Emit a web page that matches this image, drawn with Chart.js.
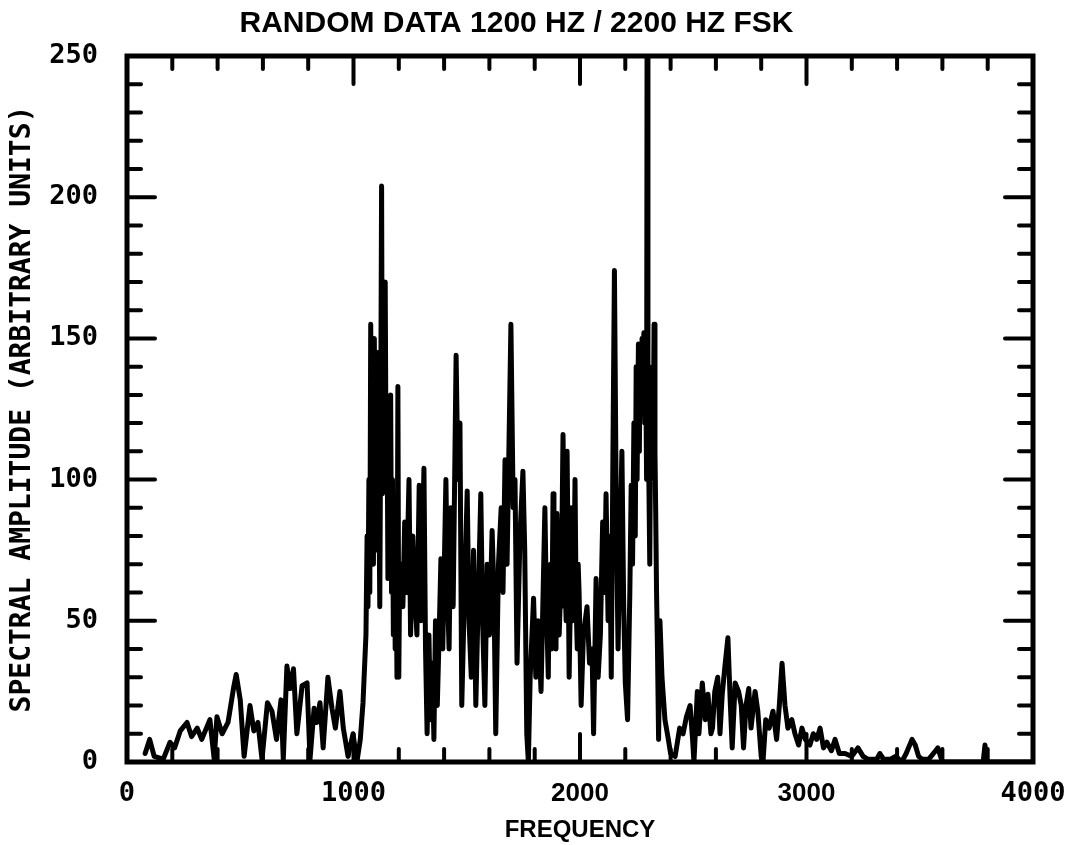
<!DOCTYPE html>
<html>
<head>
<meta charset="utf-8">
<script src="https://cdn.jsdelivr.net/npm/chart.js@4/dist/chart.umd.min.js"></script>
<style>
  body { margin: 0; background: #fff; }
</style>
</head>
<body>
<canvas id="spectrum" width="1069" height="845"></canvas>
<script>
// frequency (Hz) of each vertex of the trace
const freqHz = [
  80, 100, 120, 160, 190, 210, 235, 265, 285, 310,
  330, 366, 385, 397, 420, 446, 470, 482, 500, 517,
  543, 560, 578, 596, 620, 640, 660, 680, 690, 706,
  720, 735, 750, 773, 795, 808, 826, 838, 852, 866,
  887, 905, 920, 940, 955, 976, 998, 1015, 1030, 1042,
  1055, 1060, 1064, 1068, 1072, 1076, 1080, 1084, 1088, 1092,
  1096, 1100, 1104, 1108, 1112, 1116, 1120, 1124, 1128, 1132,
  1136, 1140, 1144, 1148, 1152, 1156, 1160, 1164, 1168, 1172,
  1176, 1180, 1184, 1188, 1192, 1196, 1200, 1203, 1210, 1218,
  1226, 1234, 1245, 1252, 1262, 1270, 1280, 1290, 1298, 1311,
  1318, 1325, 1333, 1340, 1348, 1355, 1362, 1370, 1378, 1386,
  1394, 1408, 1415, 1422, 1430, 1440, 1453, 1461, 1470, 1478,
  1490, 1502, 1510, 1520, 1530, 1540, 1550, 1562, 1570, 1580,
  1590, 1600, 1612, 1620, 1628, 1640, 1652, 1660, 1669, 1678,
  1695, 1705, 1713, 1722, 1735, 1748, 1756, 1765, 1772, 1780,
  1795, 1805, 1815, 1828, 1845, 1852, 1860, 1864, 1870, 1875,
  1881, 1885, 1890, 1894, 1898, 1903, 1908, 1912, 1916, 1920,
  1925, 1930, 1935, 1939, 1943, 1948, 1952, 1956, 1960, 1964,
  1968, 1973, 1978, 1983, 1988, 1992, 1996, 2005, 2015, 2031,
  2042, 2053, 2060, 2071, 2080, 2090, 2100, 2108, 2115, 2124,
  2132, 2138, 2145, 2152, 2160, 2168, 2176, 2185, 2193, 2200,
  2210, 2220, 2226, 2232, 2238, 2244, 2248, 2252, 2258, 2262,
  2266, 2270, 2274, 2278, 2282, 2286, 2290, 2294, 2296, 2300,
  2304, 2308, 2312, 2316, 2320, 2324, 2327, 2331, 2334, 2338,
  2342, 2347, 2353, 2362, 2375, 2390, 2400, 2420, 2440, 2455,
  2470, 2486, 2497, 2503, 2518, 2525, 2540, 2553, 2565, 2578,
  2585, 2595, 2608, 2618, 2628, 2640, 2653, 2663, 2672, 2685,
  2700, 2712, 2722, 2733, 2745, 2755, 2773, 2785, 2800, 2808,
  2820, 2835, 2852, 2868, 2880, 2892, 2905, 2918, 2935, 2949,
  2965, 2980, 2995, 3015, 3030, 3045, 3060, 3075, 3090, 3110,
  3126, 3145, 3170, 3200, 3227, 3250, 3270, 3290, 3310, 3324,
  3340, 3370, 3395, 3420, 3440, 3466, 3480, 3495, 3510, 3540,
  3570, 3580, 3600, 3780, 3788, 3796, 4000
];

// spectral amplitude at each vertex (arbitrary units)
const amplitude = [
  3, 8, 2, 1, 7, 5, 11, 14, 9, 12,
  8, 15, 1, 16, 10, 14, 26, 31, 22, 2,
  20, 11, 14, 1, 21, 18, 8, 22, 1, 34,
  26, 33, 10, 27, 28, 1, 19, 14, 21, 5,
  30, 19, 12, 25, 12, 2, 10, 0, 8, 21,
  45, 80, 55, 100, 60, 155, 90, 140, 70, 150,
  95, 130, 75, 145, 100, 55, 120, 204, 95, 150,
  110, 170, 100, 125, 65, 110, 70, 130, 60, 100,
  45, 85, 40, 70, 30, 133, 30, 60, 70, 55,
  85, 60, 100, 45, 80, 60, 45, 98, 50, 104,
  40, 10, 45, 15, 35, 8, 50, 20, 45, 72,
  40, 100, 60, 40, 90, 55, 144, 100, 120, 20,
  60, 96, 50, 30, 75, 20, 55, 95, 50, 20,
  70, 45, 82, 60, 10, 70, 90, 60, 107, 70,
  155, 90, 100, 35, 80, 103, 75, 10, 0, 30,
  58, 30, 50, 25, 90, 55, 30, 65, 70, 40,
  95, 75, 60, 40, 88, 70, 45, 55, 70, 80,
  116, 85, 60, 50, 110, 70, 30, 50, 90, 75,
  50, 65, 100, 55, 40, 70, 60, 20, 45, 55,
  35, 40, 10, 65, 30, 45, 85, 60, 95, 50,
  80, 30, 105, 174, 90, 40, 75, 110, 55, 28,
  15, 60, 98, 70, 120, 80, 140, 100, 148, 110,
  145, 125, 150, 130, 152, 120, 140, 100, 250, 130,
  100, 70, 125, 100, 140, 120, 155, 110, 90, 60,
  40, 8, 50, 30, 15, 8, 3, 2, 12, 10,
  16, 20, 8, 0, 25, 10, 28, 15, 24, 10,
  12, 25, 30, 10, 24, 34, 44, 22, 5, 28,
  25, 20, 5, 20, 26, 12, 25, 18, 2, 0,
  15, 12, 18, 8, 20, 35, 20, 12, 15, 10,
  6, 12, 8, 6, 10, 8, 12, 5, 7, 4,
  8, 3, 3, 2, 5, 2, 1, 1, 1, 3,
  1, 1, 2, 0, 3, 8, 6, 2, 1, 1,
  4, 5, 0, 0, 6, 0, 0
];

// axis ticks
const xTickLabels = [0, 1000, 2000, 3000, 4000];
const yTickLabels = [0, 50, 100, 150, 200, 250];
const xMinorStep = 200;
const yMinorStep = 10;

const plotterFont = "'DejaVu Sans Mono', monospace";
const sansFont = "'Liberation Sans', Arial, sans-serif";

const points = freqHz.map((f, i) => ({ x: f, y: amplitude[i] }));

// frame and inward tick marks like the pen plotter drew them
const plotterFrame = {
  id: "plotterFrame",
  afterDatasetsDraw(chart) {
    const { ctx, chartArea: a, scales } = chart;
    const x = scales.x, y = scales.y;
    ctx.save();
    ctx.strokeStyle = "#000";
    ctx.lineCap = "round";
    ctx.lineWidth = 5;
    ctx.strokeRect(a.left, a.top, a.right - a.left, a.bottom - a.top);

    ctx.lineWidth = 4;
    ctx.beginPath();
    for (let v = xMinorStep; v < 4000; v += xMinorStep) {
      const px = x.getPixelForValue(v);
      const len = xTickLabels.includes(v) ? 28 : 13;
      ctx.moveTo(px, a.bottom);
      ctx.lineTo(px, a.bottom - len);
      ctx.moveTo(px, a.top);
      ctx.lineTo(px, a.top + len);
    }
    for (let v = yMinorStep; v < 250; v += yMinorStep) {
      const py = y.getPixelForValue(v);
      const len = yTickLabels.includes(v) ? 28 : 14;
      ctx.moveTo(a.left, py);
      ctx.lineTo(a.left + len, py);
      ctx.moveTo(a.right, py);
      ctx.lineTo(a.right - len, py);
    }
    ctx.stroke();
    ctx.restore();
  }
};

new Chart(document.getElementById("spectrum"), {
  type: "line",
  data: {
    datasets: [{
      data: points,
      borderColor: "#000",
      borderWidth: 5,
      borderCapStyle: "round",
      borderJoinStyle: "round",
      pointRadius: 0,
      tension: 0,
      fill: false
    }]
  },
  options: {
    responsive: false,
    animation: false,
    devicePixelRatio: 1,
    parsing: false,
    layout: { padding: { left: 0, right: 36, top: 0, bottom: 0 } },
    plugins: {
      legend: { display: false },
      tooltip: { enabled: false },
      title: {
        display: true,
        text: "RANDOM DATA 1200 HZ / 2200 HZ FSK",
        color: "#000",
        font: { family: sansFont, size: 30, weight: "bold" },
        padding: { top: 6, bottom: 14 }
      }
    },
    scales: {
      x: {
        type: "linear",
        min: 0,
        max: 4000,
        grid: { display: false, drawTicks: false },
        border: { display: false },
        afterFit: (scale) => {
          scale.height = 83;
          scale.paddingLeft = 0;
          scale.paddingRight = 0;
        },
        ticks: {
          stepSize: 1000,
          color: "#000",
          padding: 16,
          maxRotation: 0,
          callback: (v) => String(v),
          font: (c) => {
            const v = c.tick ? c.tick.value : 0;
            if (v === 2000 || v === 3000) {
              return { family: sansFont, size: 26, weight: "bold" };
            }
            return { family: plotterFont, size: 27, weight: "bold" };
          }
        },
        title: {
          display: true,
          text: "FREQUENCY",
          color: "#000",
          font: { family: sansFont, size: 24, weight: "bold" },
          padding: { top: 6, bottom: 0 }
        }
      },
      y: {
        min: 0,
        max: 250,
        grid: { display: false, drawTicks: false },
        border: { display: false },
        afterFit: (scale) => {
          scale.width = 127;
          scale.paddingTop = 0;
          scale.paddingBottom = 0;
        },
        ticks: {
          stepSize: 50,
          color: "#000",
          padding: 29,
          callback: (v) => String(v),
          font: { family: plotterFont, size: 27, weight: "bold" }
        },
        title: {
          display: true,
          text: "SPECTRAL AMPLITUDE (ARBITRARY UNITS)",
          color: "#000",
          font: { family: plotterFont, size: 28, weight: "bold" },
          padding: { top: 6, bottom: 0 }
        }
      }
    }
  },
  plugins: [plotterFrame]
});
</script>
</body>
</html>
